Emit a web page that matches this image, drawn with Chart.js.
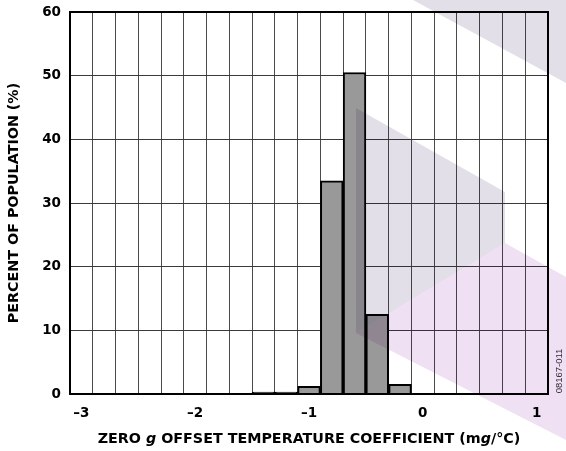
<!DOCTYPE html>
<html><head><meta charset="utf-8">
<script src="https://cdn.jsdelivr.net/npm/chart.js@4.4.0/dist/chart.umd.min.js"></script>
<style>html,body{margin:0;padding:0;background:#fff}#wrap{width:566px;height:451px}</style>
</head><body><div id="wrap"><canvas id="c" width="566" height="451"></canvas></div>
<script>
// Histogram bins (centres, mg/°C) and percent of population
const binCenters = [-3.0,-2.8,-2.6,-2.4,-2.2,-2.0,-1.8,-1.6,-1.4,-1.2,-1.0,-0.8,-0.6,-0.4,-0.2,0.0,0.2,0.4,0.6,0.8,1.0];
const percent    = [0,0,0,0,0,0,0,0,0.3,0.3,1.2,33.5,50.5,12.5,1.5,0,0,0,0,0,0];
const xTickValues = [-3,-2,-1,0,1];
const xTickLabels = ['–3','–2','–1','0','1'];
const yTicks = [0,10,20,30,40,50,60];
const xTitleParts = [['ZERO ',false],['g',true],[' OFFSET TEMPERATURE COEFFICIENT (m',false],['g',true],['/°C)',false]];
const yTitle = 'PERCENT OF POPULATION (%)';
const figCode = '08167-011';

const FONT = '"DejaVu Sans", sans-serif';

const decorPlugin = {
  id: 'decor',
  afterDatasetsDraw(chart) {
    const {ctx, chartArea: a} = chart;
    ctx.save();
    ctx.strokeStyle = '#000';
    ctx.lineWidth = 2;
    ctx.strokeRect(a.left, a.top, a.right - a.left, a.bottom - a.top);
    ctx.restore();
  },
  afterDraw(chart) {
    const {ctx, chartArea: a} = chart;
    ctx.save();
    // x title with italic g
    ctx.fillStyle = '#000';
    ctx.textBaseline = 'middle';
    const fN = 'bold 14.3px ' + FONT, fI = 'italic bold 14.3px ' + FONT;
    let total = 0;
    xTitleParts.forEach(([t, it]) => { ctx.font = it ? fI : fN; total += ctx.measureText(t).width; });
    let x = (a.left + a.right) / 2 - total / 2;
    ctx.textAlign = 'left';
    xTitleParts.forEach(([t, it]) => { ctx.font = it ? fI : fN; ctx.fillText(t, x, 439); x += ctx.measureText(t).width; });
    // y title
    ctx.save();
    ctx.translate(14, 203);
    ctx.rotate(-Math.PI / 2);
    ctx.textAlign = 'center';
    ctx.font = fN;
    ctx.fillText(yTitle, 0, 0);
    ctx.restore();
    // figure code
    ctx.save();
    ctx.translate(559, 371);
    ctx.rotate(-Math.PI / 2);
    ctx.textAlign = 'center';
    ctx.font = '9.5px "Liberation Sans", Arial, sans-serif';
    ctx.fillStyle = '#333';
    ctx.fillText(figCode, 0, 0);
    ctx.restore();
    // watermark shapes
    ctx.globalCompositeOperation = 'multiply';
    const poly = (pts, col) => {
      ctx.beginPath();
      pts.forEach((p, i) => i ? ctx.lineTo(p[0], p[1]) : ctx.moveTo(p[0], p[1]));
      ctx.closePath();
      ctx.fillStyle = col;
      ctx.fill();
    };
    poly([[413,0],[566,0],[566,83]], '#e3dfe9');
    poly([[356,108],[505,192],[505,243],[356,333]], '#e3dfe9');
    poly([[356,333],[505,243],[566,277],[566,440]], '#efe0f3');
    ctx.restore();
  }
};

new Chart(document.getElementById('c'), {
  type: 'bar',
  data: {
    labels: binCenters,
    datasets: [{
      data: percent.map(v => v > 0 ? v : null),
      backgroundColor: '#999999',
      borderColor: '#000',
      borderWidth: 2,
      barPercentage: 1,
      categoryPercentage: 1
    }]
  },
  options: {
    responsive: false,
    animation: false,
    devicePixelRatio: 1,
    layout: {padding: {left: 0, top: 12, right: 18, bottom: 0}},
    plugins: {legend: {display: false}, tooltip: {enabled: false}},
    scales: {
      x: {
        type: 'category',
        offset: true,
        grid: {color: '#4a4a4a', lineWidth: 1, drawTicks: false, offset: true},
        border: {color: '#000', width: 2},
        ticks: {
          autoSkip: false, maxRotation: 0, padding: 11, color: '#000',
          font: {family: FONT, size: 13.5, weight: 'bold'},
          callback: (v, i) => {
            const k = xTickValues.findIndex(t => Math.abs(t - binCenters[i]) < 1e-9);
            return k >= 0 ? xTickLabels[k] : '';
          }
        },
        afterFit: s => { s.height = 57; s.paddingLeft = 0; s.paddingRight = 0; }
      },
      y: {
        min: yTicks[0], max: yTicks[yTicks.length - 1],
        grid: {color: '#3a3a3a', lineWidth: 1, drawTicks: false},
        border: {color: '#000', width: 2},
        ticks: {
          stepSize: 10, padding: 9, color: '#000',
          font: {family: FONT, size: 13.5, weight: 'bold'}
        },
        afterFit: s => { s.width = 70; s.paddingTop = 0; s.paddingBottom = 0; }
      }
    }
  },
  plugins: [decorPlugin]
});
</script></body></html>
